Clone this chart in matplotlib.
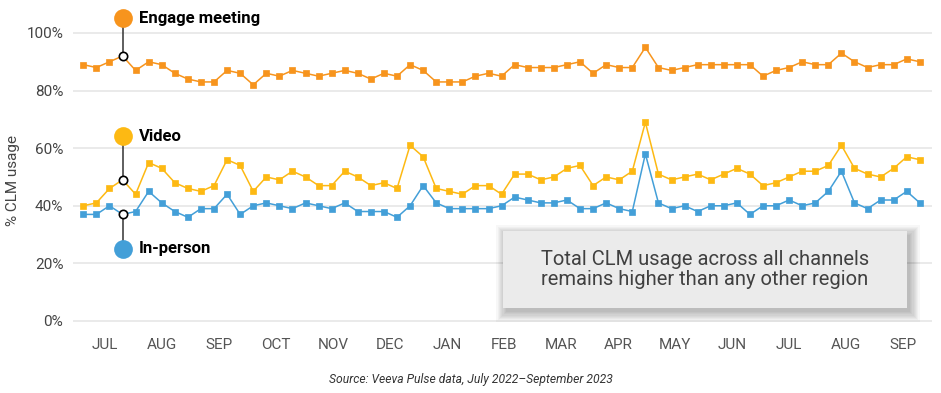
import matplotlib
matplotlib.use("Agg")
import matplotlib.pyplot as plt
from matplotlib.patches import FancyBboxPatch
import numpy as np

plt.rcParams['font.family'] = ['Roboto', 'DejaVu Sans']

months = ["JUL", "AUG", "SEP", "OCT", "NOV", "DEC", "JAN", "FEB", "MAR",
          "APR", "MAY", "JUN", "JUL", "AUG", "SEP"]

engage = [89, 88, 90, 92, 87, 90, 89, 86, 84, 83, 83, 87, 86, 82, 86, 85,
          87, 86, 85, 86, 87, 86, 84, 86, 85, 89, 87, 83, 83, 83, 85, 86,
          85, 89, 88, 88, 88, 89, 90, 86, 89, 88, 88, 95, 88, 87, 88, 89,
          89, 89, 89, 89, 85, 87, 88, 90, 89, 89, 93, 90, 88, 89, 89, 91, 90]

video = [40, 41, 46, 49, 44, 55, 53, 48, 46, 45, 47, 56, 54, 45, 50, 49,
         52, 50, 47, 47, 52, 50, 47, 48, 46, 61, 57, 46, 45, 44, 47, 47,
         44, 51, 51, 49, 50, 53, 54, 47, 50, 49, 52, 69, 51, 49, 50, 51,
         49, 51, 53, 51, 47, 48, 50, 52, 52, 54, 61, 53, 51, 50, 53, 57, 56]

inperson = [37, 37, 40, 37, 38, 45, 41, 38, 36, 39, 39, 44, 37, 40, 41, 40,
            39, 41, 40, 39, 41, 38, 38, 38, 36, 40, 47, 41, 39, 39, 39, 39,
            40, 43, 42, 41, 41, 42, 39, 39, 41, 39, 38, 58, 41, 39, 40, 38,
            40, 40, 41, 37, 40, 40, 42, 40, 41, 45, 52, 41, 39, 42, 42, 45, 41]

series_names = ["Engage meeting", "Video", "In-person"]
series_colors = ["#F7941D", "#FDB913", "#439FD8"]
legend_y = [105.2, 64.2, 25.0]
highlight_idx = 3

W, H = 941, 393
fig = plt.figure(figsize=(W / 100, H / 100), dpi=100)
ax = fig.add_axes([73 / W, 1 - 329.6 / H, (932 - 73) / W, (329.6 - 1.3) / H])
ax.set_xlim(-0.79, 64.93)
ax.set_ylim(-3, 111)

for s in ax.spines.values():
    s.set_visible(False)

yt = [0, 20, 40, 60, 80, 100]
ax.set_yticks(yt)
ax.set_yticklabels([f"{v}%" for v in yt], fontsize=11, color="#444444")
for v in yt:
    ax.axhline(v, color="#e6e6e6", lw=1.2, zorder=0)
ax.tick_params(axis="y", length=0, pad=7)

tick_pos = [1.66 + 4.36 * k for k in range(len(months))]
ax.set_xticks(tick_pos)
ax.set_xticklabels(months, fontsize=11, color="#555555")
ax.tick_params(axis="x", length=0, pad=6)

x = np.arange(len(engage))
for vals, col in zip([engage, video, inperson], series_colors):
    ax.plot(x, vals, color=col, lw=1.1, marker="s", markersize=5,
            markeredgecolor=col, markeredgewidth=0.5, zorder=3)

for vals, name, col, ly in zip([engage, video, inperson], series_names,
                               series_colors, legend_y):
    vy = vals[highlight_idx]
    ax.plot([highlight_idx, highlight_idx], [vy, ly], color="#333333",
            lw=1.1, zorder=4, clip_on=False)
    ax.plot(highlight_idx, vy, marker="o", markersize=6, markerfacecolor="white",
            markeredgecolor="black", markeredgewidth=1.2, zorder=6, clip_on=False)
    ax.plot(highlight_idx, ly, marker="o", markersize=13.5, color=col,
            markeredgewidth=0, zorder=6, clip_on=False)
    ax.annotate(name, (highlight_idx, ly), xytext=(12, 0),
                textcoords="offset points", va="center", ha="left",
                fontsize=12, fontweight="bold", color="black", zorder=7)

fig.text(13 / W, 1 - 180 / H, "% CLM usage", rotation=90, ha="center",
         va="center", fontsize=11, color="#444444")

# annotation box with soft shadow
bx0, by0, bx1, by1 = 503, 231, 907, 308
for i in range(9):
    grow = i * 1.2
    sh = FancyBboxPatch(((bx0 + 3 - grow) / W, 1 - (by1 + 4 + grow) / H),
                        (bx1 - bx0 + 2 * grow) / W, (by1 - by0 + 2 * grow) / H,
                        boxstyle="square,pad=0", transform=fig.transFigure,
                        facecolor="black", edgecolor="none", alpha=0.03, zorder=8)
    fig.add_artist(sh)
box = FancyBboxPatch((bx0 / W, 1 - by1 / H), (bx1 - bx0) / W, (by1 - by0) / H,
                     boxstyle="square,pad=0", transform=fig.transFigure,
                     facecolor="#ebebeb", edgecolor="none", zorder=9)
fig.add_artist(box)
fig.text((bx0 + bx1) / 2 / W, 1 - (by0 + by1) / 2 / H,
         "Total CLM usage across all channels\nremains higher than any other region",
         ha="center", va="center", fontsize=14.5, color="#404040",
         linespacing=1.1, zorder=10)

fig.text(0.5, 1 - 379 / H, "Source: Veeva Pulse data, July 2022\u2013September 2023",
         ha="center", va="center", fontsize=8.7, style="italic", color="#333333")

fig.savefig("out.png", dpi=100)
